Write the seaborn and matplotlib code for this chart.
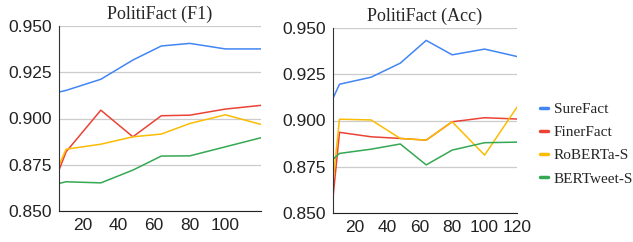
import pandas as pd
import seaborn as sns
import matplotlib.pyplot as plt
from matplotlib.lines import Line2D

# training sizes on the x axis
sizes = [6.5, 10.5, 30, 48, 64, 80, 100, 120]
models = ["SureFact", "FinerFact", "RoBERTa-S", "BERTweet-S"]
colors = ["#4285F4", "#EA4335", "#FBBC04", "#34A853"]

# PolitiFact F1
f1_surefact = [0.9143, 0.9152, 0.9212, 0.9316, 0.9392, 0.9406, 0.9376, 0.9376]
f1_finerfact = [0.8721, 0.8820, 0.9045, 0.8901, 0.9015, 0.9018, 0.9051, 0.9071]
f1_roberta = [0.8748, 0.8834, 0.8861, 0.8901, 0.8916, 0.8973, 0.9020, 0.8968]
f1_bertweet = [0.8649, 0.8658, 0.8652, 0.8721, 0.8797, 0.8798, 0.8847, 0.8896]

# PolitiFact accuracy
acc_surefact = [0.9120, 0.9196, 0.9234, 0.9310, 0.9433, 0.9355, 0.9386, 0.9346]
acc_finerfact = [0.8583, 0.8936, 0.8912, 0.8903, 0.8894, 0.8993, 0.9015, 0.9008]
acc_roberta = [0.8668, 0.9007, 0.9003, 0.8903, 0.8894, 0.8993, 0.8813, 0.9072]
acc_bertweet = [0.8790, 0.8822, 0.8845, 0.8873, 0.8760, 0.8840, 0.8880, 0.8883]


def to_long(series):
    rows = []
    for name, vals in zip(models, series):
        for x, v in zip(sizes, vals):
            rows.append({"size": x, "score": v, "model": name})
    return pd.DataFrame(rows)


df_f1 = to_long([f1_surefact, f1_finerfact, f1_roberta, f1_bertweet])
df_acc = to_long([acc_surefact, acc_finerfact, acc_roberta, acc_bertweet])

sns.set_style("white")
plt.rcParams["font.family"] = ["Liberation Sans", "DejaVu Sans"]
W, H = 633, 242
fig = plt.figure(figsize=(W / 100, H / 100), dpi=100)
ax1 = fig.add_axes([59 / W, 1 - 211 / H, 202 / W, 185 / H])
ax2 = fig.add_axes([333 / W, 1 - 213 / H, 184 / W, 185 / H])

palette = dict(zip(models, colors))
for ax, df, title, xt in [(ax1, df_f1, "PolitiFact (F1)", [20, 40, 60, 80, 100]),
                          (ax2, df_acc, "PolitiFact (Acc)", [20, 40, 60, 80, 100, 120])]:
    sns.lineplot(data=df, x="size", y="score", hue="model", palette=palette,
                 linewidth=1.1, ax=ax, legend=False)
    ax.set_xlim(6.5, 120)
    ax.set_ylim(0.85, 0.95)
    ax.set_yticks([0.850, 0.875, 0.900, 0.925, 0.950])
    ax.set_yticklabels(["0.850", "0.875", "0.900", "0.925", "0.950"])
    ax.set_xticks(xt)
    ax.set_xlabel("")
    ax.set_ylabel("")
    ax.yaxis.grid(True, color="#cccccc", linewidth=0.9)
    ax.set_axisbelow(True)
    for s in ["top", "right"]:
        ax.spines[s].set_visible(False)
    ax.spines["left"].set_color("#333333")
    ax.spines["bottom"].set_color("#222222")
    ax.tick_params(axis="both", length=0, labelsize=12.5, colors="#222222", pad=5)
    ax.tick_params(axis="y", pad=5)
    ax.set_title(title, family=["Liberation Serif"], fontsize=13, pad=5)

handles = [Line2D([0], [0], color=c, linewidth=2.5) for c in colors]
fig.legend(handles, models, loc="center left", bbox_to_anchor=(526 / W, 1 - 144 / H),
           frameon=False, prop={"family": "Liberation Serif", "size": 11},
           handlelength=0.52, handletextpad=0.4, labelspacing=0.62)

fig.savefig("out.png", dpi=100)
